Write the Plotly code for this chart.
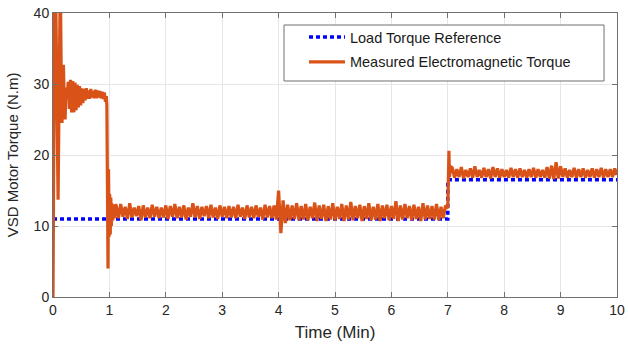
import plotly.graph_objects as go

# ---------------- data ----------------
# Load torque reference (step at 7 min)
ref_time = [0.0, 7.0, 7.0, 10.0]
ref_torque = [11.0, 11.0, 16.5, 16.5]

# Start-up transient (time in min, torque in N.m)
transient_time = [0.0, 0.01, 0.02, 0.03, 0.045, 0.06, 0.075, 0.09, 0.1, 0.115, 0.13, 0.145,
                  0.16, 0.17, 0.185, 0.2, 0.215, 0.23, 0.25, 0.27, 0.29, 0.31, 0.33, 0.35,
                  0.37, 0.39, 0.41, 0.43, 0.45, 0.47, 0.49, 0.51, 0.53, 0.55, 0.57, 0.59,
                  0.61, 0.63, 0.65, 0.67, 0.69, 0.71, 0.73, 0.75, 0.77, 0.79, 0.81, 0.83,
                  0.85, 0.87, 0.89, 0.91, 0.93, 0.945, 0.955, 0.965, 0.975, 0.985, 0.995,
                  1.005, 1.015, 1.025, 1.035, 1.045, 1.06, 1.075, 1.09, 1.105]
transient_torque = [0.0, 12.0, 32.0, 45.0, 45.0, 30.0, 18.0, 13.7, 22.0, 45.0, 45.0, 32.0,
                    24.5, 28.0, 32.7, 27.0, 25.0, 29.5, 28.0, 30.3, 26.5, 30.6, 26.0, 30.4,
                    26.0, 30.2, 26.3, 29.9, 26.7, 29.7, 27.0, 29.4, 27.3, 29.3, 27.7, 29.4,
                    27.9, 29.1, 27.9, 29.3, 28.1, 29.0, 28.0, 29.2, 28.0, 29.1, 28.1, 29.0,
                    28.0, 28.9, 27.9, 28.8, 27.5, 28.3, 27.0, 16.0, 4.0, 18.0, 8.5,
                    14.5, 8.8, 14.0, 10.0, 13.2, 10.8, 12.9, 11.1, 13.0]

# Steady-state samples, 1.12 ... 6.96 min every 0.04 min
seg1_start, seg1_step = 1.12, 0.04
seg1_torque = [
    12.9, 11.1, 13.1, 11.3, 12.7, 11.0, 13.2, 11.2, 12.6, 11.4,
    12.8, 10.8, 12.9, 11.2, 12.6, 11.1, 13.0, 11.3, 12.7, 11.1,
    12.6, 11.2, 12.9, 11.0, 12.8, 11.3, 13.1, 11.1, 12.7, 11.2,
    12.9, 10.9, 12.6, 11.3, 13.2, 11.2, 12.8, 11.0, 12.7, 11.4,
    12.8, 11.1, 13.0, 11.2, 12.6, 11.0, 12.9, 11.3, 12.7, 11.1,
    12.8, 11.2, 12.7, 11.1, 13.0, 11.3, 12.6, 11.0, 12.9, 11.2,
    12.7, 11.1, 12.9, 11.3, 12.6, 10.9, 13.0, 11.2, 12.8, 11.1,
    12.9, 10.9, 15.0, 9.0, 13.6, 10.4, 13.0, 10.8, 12.9, 11.0,
    13.2, 10.8, 12.8, 10.9, 13.1, 10.8, 12.7, 11.1, 13.3, 10.7,
    12.9, 11.0, 13.0, 10.7, 12.8, 10.9, 13.2, 10.8, 12.7, 11.0,
    13.1, 10.7, 12.9, 10.9, 13.4, 10.8, 12.8, 11.1, 13.0, 10.7,
    12.8, 11.0, 13.2, 10.8, 12.7, 10.9, 13.1, 10.7, 12.9, 11.1,
    13.0, 10.8, 12.8, 11.0, 13.5, 10.7, 12.9, 10.9, 13.1, 11.1,
    12.8, 10.8, 13.0, 11.0, 12.7, 10.7, 13.2, 10.9, 12.9, 11.0,
    12.8, 10.9, 13.1, 10.8, 12.7, 11.1, 12.9,
]

# Load step transition
step_time = [7.0, 7.01, 7.02, 7.03, 7.05]
step_torque = [12.5, 16.8, 20.6, 16.9, 18.4]

# Steady-state samples, 7.08 ... 10.0 min every 0.04 min
seg2_start, seg2_step = 7.08, 0.04
seg2_torque = [
    18.2, 16.8, 18.0, 16.9, 18.3, 16.7, 17.9, 16.9, 18.1, 16.8,
    18.4, 16.9, 17.9, 16.8, 18.2, 16.9, 18.0, 16.7, 18.3, 16.9,
    18.1, 16.8, 18.0, 16.9, 17.9, 16.8, 18.2, 16.9, 18.0, 16.8,
    18.1, 16.9, 17.9, 16.8, 18.0, 16.9, 18.2, 16.8, 18.0, 16.9,
    17.9, 16.8, 18.3, 16.7, 18.5, 16.6, 19.0, 16.7, 18.4, 16.9,
    18.1, 16.8, 17.9, 16.9, 18.2, 16.8, 18.0, 16.9, 18.1, 16.8,
    17.9, 16.9, 18.1, 16.8, 18.0, 16.9, 18.2, 16.8, 18.0, 16.9,
    18.0, 16.9, 18.1, 17.2,
]

x_ticks = [0, 1, 2, 3, 4, 5, 6, 7, 8, 9, 10]
y_ticks = [0, 10, 20, 30, 40]

# ---------------- assemble measured series ----------------
meas_time = list(transient_time)
meas_torque = list(transient_torque)
meas_time += [round(seg1_start + i * seg1_step, 4) for i in range(len(seg1_torque))]
meas_torque += seg1_torque
meas_time += step_time
meas_torque += step_torque
meas_time += [round(seg2_start + i * seg2_step, 4) for i in range(len(seg2_torque))]
meas_torque += seg2_torque

FONT = "Liberation Sans, Arial, Helvetica, sans-serif"

fig = go.Figure()
fig.add_trace(go.Scatter(
    x=ref_time, y=ref_torque, mode="lines",
    name="Load Torque Reference",
    legendgroup="a",
    line=dict(color="#0000FF", width=3.5, dash="4px,3px"),
))
fig.add_trace(go.Scatter(
    x=meas_time, y=meas_torque, mode="lines",
    name="Measured Electromagnetic Torque",
    legendgroup="b",
    line=dict(color="#D95319", width=3.2),
))

axis_common = dict(
    showline=True, linecolor="#707070", linewidth=1, mirror="ticks",
    ticks="inside", ticklen=5, tickcolor="#707070",
    showgrid=True, gridcolor="#e6e6e6", gridwidth=1,
    zeroline=False, automargin=False,
    tickfont=dict(family=FONT, size=14, color="#262626"),
)

# legend frame (paper coordinates)
fig.add_shape(type="rect", xref="paper", yref="paper",
              x0=0.4096, x1=0.9770, y0=0.7606, y1=0.9577,
              line=dict(color="#707070", width=1), fillcolor="white", layer="above")

fig.update_layout(
    width=628, height=347,
    margin=dict(l=53, r=11, t=13, b=50),
    paper_bgcolor="white", plot_bgcolor="white",
    font=dict(family=FONT, color="#262626"),
    xaxis=dict(range=[0, 10], tickvals=x_ticks,
               title=dict(text="Time (Min)", font=dict(family=FONT, size=17), standoff=9),
               **axis_common),
    yaxis=dict(range=[0, 40], tickvals=y_ticks,
               title=dict(text="VSD Motor Torque (N.m)", font=dict(family=FONT, size=15), standoff=11),
               **axis_common),
    legend=dict(
        x=0.4450, y=0.9718, xanchor="left", yanchor="top",
        bgcolor="rgba(0,0,0,0)", borderwidth=0,
        font=dict(family=FONT, size=14.5, color="#1a1a1a"),
        traceorder="grouped", tracegroupgap=3,
        itemwidth=36,
    ),
    showlegend=True,
)

fig.write_html("out.html")
